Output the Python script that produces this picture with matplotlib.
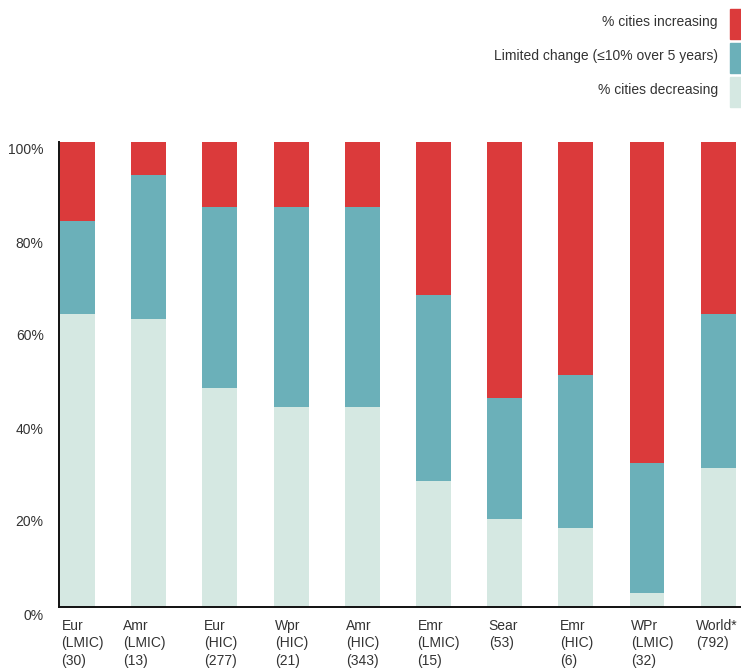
import matplotlib
matplotlib.use('Agg')
from matplotlib import pyplot as plt
from matplotlib.transforms import ScaledTranslation
from matplotlib.patches import Rectangle

plt.rcParams['font.family'] = ['Liberation Sans', 'DejaVu Sans']

regions = ['Eur\n(LMIC)\n(30)', 'Amr\n(LMIC)\n(13)', 'Eur\n(HIC)\n(277)',
           'Wpr\n(HIC)\n(21)', 'Amr\n(HIC)\n(343)', 'Emr\n(LMIC)\n(15)',
           'Sear\n(53)', 'Emr\n(HIC)\n(6)', 'WPr\n(LMIC)\n(32)',
           'World*\n(792)']
decreasing = [63.0, 62.0, 47.0, 43.0, 43.0, 27.0, 19.0, 17.0, 3.0, 30.0]
limited = [20.0, 31.0, 39.0, 43.0, 43.0, 40.0, 26.0, 33.0, 28.0, 33.0]
increasing = [17.0, 7.0, 14.0, 14.0, 14.0, 33.0, 55.0, 50.0, 69.0, 37.0]

yticks = [0, 20, 40, 60, 80, 100]
legend_labels = ['% cities increasing',
                 'Limited change (\u226410% over 5 years)',
                 '% cities decreasing']

c_inc = '#db3a3b'
c_lim = '#6bb0b9'
c_dec = '#d5e8e2'
txt = '#333333'

fig = plt.figure(figsize=(7.41, 6.68), dpi=100)
ax = fig.add_axes([59 / 741, 61 / 668, 682 / 741, 465 / 668])

x = range(len(regions))
w = 0.49
ax.bar(x, decreasing, width=w, color=c_dec)
ax.bar(x, limited, width=w, bottom=decreasing, color=c_lim)
bottom2 = [d + l for d, l in zip(decreasing, limited)]
ax.bar(x, increasing, width=w, bottom=bottom2, color=c_inc)

ax.set_xlim(-0.26, 9.32)
ax.set_ylim(0, 100)
ax.set_yticks(yticks)
ax.set_yticklabels([f'{t}%' for t in yticks], fontsize=10, color=txt)
ax.tick_params(axis='y', length=0, pad=11)
for label in ax.get_yticklabels():
    label.set_transform(label.get_transform()
                        + ScaledTranslation(0, -7 / 100, fig.dpi_scale_trans))

ax.set_xticks([])
for i, name in enumerate(regions):
    shift = 0.02
    if i == 1:
        shift = -0.12
    elif i == len(regions) - 1:
        shift = -0.07
    ax.text(i - w / 2 + shift, -2.6, name, ha='left', va='top',
            fontsize=10, color=txt, linespacing=1.3)

for side in ('top', 'right'):
    ax.spines[side].set_visible(False)
for side in ('left', 'bottom'):
    ax.spines[side].set_linewidth(1.4)
    ax.spines[side].set_color('#111111')

# legend drawn by hand at the top right
legend_colors = [c_inc, c_lim, c_dec]
sw_tops = [9, 43, 77]
for lab, col, top in zip(legend_labels, legend_colors, sw_tops):
    fig.patches.append(Rectangle((730 / 741, 1 - (top + 30) / 668), 11 / 741,
                                 30 / 668, transform=fig.transFigure,
                                 color=col))
    fig.text(718 / 741, 1 - (top + 13) / 668, lab, ha='right', va='center',
             fontsize=10, color=txt)

fig.savefig('out.png', dpi=100)
